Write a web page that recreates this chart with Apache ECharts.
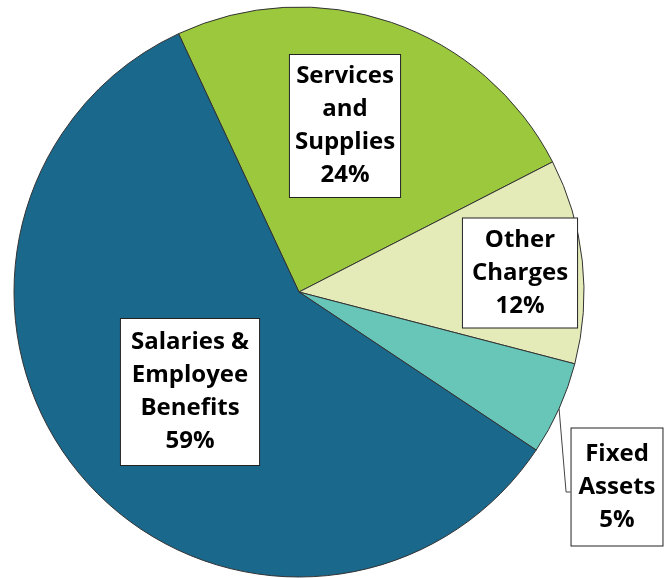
<!DOCTYPE html>
<html>
<head>
<meta charset="utf-8">
<script src="https://cdn.jsdelivr.net/npm/echarts@6/dist/echarts.min.js"></script>
<style>
  html, body { margin: 0; padding: 0; background: #fff; }
  #chart { width: 671px; height: 578px; }
</style>
</head>
<body>
<div id="chart"></div>
<script>
// slices in clockwise order, starting at the top-left edge
const categories = ["Services\nand\nSupplies", "Other\nCharges", "Fixed\nAssets", "Salaries &\nEmployee\nBenefits"];
const shares = [24.4, 11.6, 5.3, 58.7];

const sliceColors = ["#9bc83c", "#e4ebb9", "#68c6b9", "#1b688d"];
// where each label box sits (centre, px)
const labelCentres = [[345, 126], [520, 273], [617, 487], [190, 392]];
const labelPadding = [[5, 5, 5, 5], [5, 9, 5, 9], [9, 7, 9, 7], [7, 10, 7, 10]];

const chart = echarts.init(document.getElementById("chart"));

const pieData = categories.map((name, i) => ({
  name: name,
  value: shares[i],
  itemStyle: { color: sliceColors[i] },
  label: { padding: labelPadding[i] },
  labelLine: { show: i === 2 },
}));

chart.setOption({
  animation: false,
  backgroundColor: "#fff",
  series: [
    {
      type: "pie",
      center: [299, 292],
      radius: 285,
      startAngle: 115,
      clockwise: true,
      avoidLabelOverlap: false,
      percentPrecision: 0,
      itemStyle: {
        borderColor: "#333",
        borderWidth: 1,
      },
      label: {
        show: true,
        position: "outside",
        formatter: "{b}\n{d}%",
        fontFamily: "Open Sans",
        fontWeight: "bold",
        fontSize: 24,
        lineHeight: 33,
        color: "#000",
        backgroundColor: "#fff",
        borderColor: "#222",
        borderWidth: 1,
        align: "center",
      },
      labelLine: {
        show: false,
        lineStyle: { color: "#444", width: 1 },
      },
      labelLayout: (params) => {
        const c = labelCentres[params.dataIndex];
        const out = { x: c[0], y: c[1], align: "center", verticalAlign: "middle" };
        if (params.dataIndex === 2 && params.labelLinePoints) {
          const p0 = params.labelLinePoints[0];
          const left = c[0] - params.labelRect.width / 2;
          out.labelLinePoints = [p0, [p0[0] + 7, c[1] + 5], [left, c[1] + 5]];
        }
        return out;
      },
      data: pieData,
    },
  ],
});
</script>
</body>
</html>
